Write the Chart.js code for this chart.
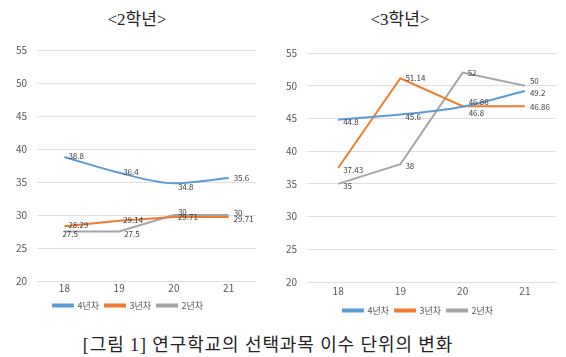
<!DOCTYPE html>
<html><head><meta charset="utf-8">
<script src="https://cdn.jsdelivr.net/npm/chart.js@4"></script>
<style>
html,body{margin:0;padding:0;background:#fff;width:566px;height:357px;overflow:hidden;}
.box{position:absolute;}
.title{position:absolute;font-family:"Liberation Serif","Noto Sans CJK KR",serif;font-size:17px;color:#222;white-space:nowrap;transform:translateX(-50%);}
.cap{position:absolute;font-family:"Liberation Serif","Noto Sans CJK KR",serif;font-size:18px;color:#222;white-space:nowrap;transform:translateX(-50%);letter-spacing:0.9px;}
</style></head>
<body>
<div class="title" style="left:137px;top:5px;">&lt;2학년&gt;</div>
<div class="title" style="left:400px;top:5px;">&lt;3학년&gt;</div>
<div class="box" style="left:0;top:30px;width:275px;height:290px;"><canvas id="c1" width="275" height="290"></canvas></div>
<div class="box" style="left:280px;top:30px;width:286px;height:295px;"><canvas id="c2" width="286" height="295"></canvas></div>
<div class="cap" style="left:268px;top:330px;">[그림 1] 연구학교의 선택과목 이수 단위의 변화</div>
<script>
const categories = ["18","19","20","21"];
const seriesNames = ["4년차","3년차","2년차"];
// 2학년
const g2_4y = [38.8, 36.4, 34.8, 35.6];
const g2_3y = [28.29, 29.14, 29.71, 29.71];
const g2_2y = [27.5, 27.5, 30, 30];
// 3학년
const g3_4y = [44.8, 45.6, 46.8, 49.2];
const g3_3y = [37.43, 51.14, 46.86, 46.86];
const g3_2y = [35, 38, 52, 50];
const yTicks = [20, 25, 30, 35, 40, 45, 50, 55];

const colors = ["#5B9BD5", "#ED7D31", "#A5A5A5"];
const FONT = '"Noto Sans CJK KR", "Noto Sans", sans-serif';

const labelPlugin = {
  id: 'ptLabels',
  afterDatasetsDraw(chart) {
    const ctx = chart.ctx;
    ctx.save();
    ctx.font = '8px ' + FONT;
    ctx.fillStyle = '#404040';
    ctx.textBaseline = 'middle';
    ctx.textAlign = 'left';
    chart.data.datasets.forEach((ds, i) => {
      const meta = chart.getDatasetMeta(i);
      meta.data.forEach((pt, j) => {
        const off = (ds.labelOffsets && ds.labelOffsets[j]) || [5, 2];
        ctx.fillText(String(ds.data[j]), pt.x + off[0], pt.y + off[1]);
      });
    });
    ctx.restore();
  }
};

function makeChart(id, data, cfg, offsets) {
  return new Chart(document.getElementById(id), {
    type: 'line',
    data: {
      labels: categories,
      datasets: data.map((d, i) => ({
        label: seriesNames[i],
        data: d,
        borderColor: colors[i],
        backgroundColor: colors[i],
        borderWidth: 2,
        pointRadius: 0,
        tension: i === 0 ? 0.3 : 0,
        cubicInterpolationMode: i === 0 ? 'monotone' : 'default',
        labelOffsets: offsets[i]
      }))
    },
    options: {
      responsive: false,
      animation: false,
      layout: { padding: { top: cfg.top, right: cfg.right, left: 0, bottom: 0 } },
      plugins: {
        tooltip: { enabled: false },
        legend: {
          position: 'bottom',
          labels: { boxWidth: 20, boxHeight: 2, color: '#595959', font: { size: 9, family: FONT }, padding: 6 }
        }
      },
      scales: {
        x: {
          offset: true,
          grid: { display: false, tickLength: 0 },
          border: { display: false },
          ticks: { color: '#595959', font: { size: 10, family: FONT }, padding: cfg.xpad }
        },
        y: {
          min: 20, max: 55,
          afterBuildTicks(s) { s.ticks = yTicks.map(v => ({ value: v })); },
          grid: { color: '#e0e0e0', drawTicks: false },
          border: { display: false },
          ticks: { color: '#595959', font: { size: 10, family: FONT }, padding: 10 },
          afterFit(s) { s.width = cfg.w; }
        }
      }
    },
    plugins: [labelPlugin]
  });
}

makeChart('c1', [g2_4y, g2_3y, g2_2y], { w: 37, top: 20, right: 19, xpad: 1 },
  [[[4, -1], [4, -1], [4, 4], [5, 0]],
   [[4, -1], [4, -1], [4, 0], [5, 2]],
   [[-2, 2], [5, 2], [4, -3], [5, -2]]]);
makeChart('c2', [g3_4y, g3_3y, g3_2y], { w: 27, top: 23, right: 10, xpad: 3 },
  [[[5, 2], [5, 2], [6, 6], [5, 2]],
   [[5, 2], [5, 0], [6, -4], [5, 1]],
   [[5, 2], [5, 2], [5, 0], [5, -5]]]);
</script>
</body></html>
